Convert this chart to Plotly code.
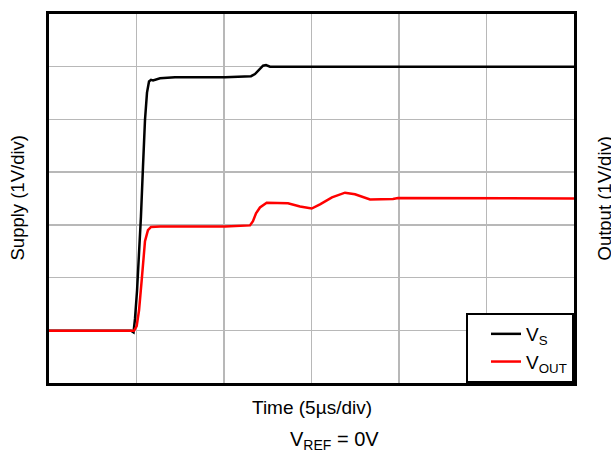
import plotly.graph_objects as go

# time in divisions (5 us/div), voltage in divisions (1 V/div)
vs_t = [0, 0.937, 0.966, 0.983, 1.006, 1.029, 1.051, 1.074, 1.097, 1.12, 1.143, 1.166, 1.189,
        1.269, 1.44, 2.011, 2.309, 2.354, 2.4, 2.446, 2.48, 2.526, 6.0]
vs_v = [0.99, 0.99, 0.96, 1.22, 1.75, 2.41, 3.16, 4.10, 4.99, 5.51, 5.72, 5.75, 5.74,
        5.78, 5.80, 5.80, 5.82, 5.86, 5.95, 6.02, 6.03, 6.0, 6.0]

vout_t = [0, 0.949, 0.971, 1.002, 1.029, 1.059, 1.097, 1.131, 1.166, 1.269, 2.011, 2.297, 2.331,
          2.366, 2.411, 2.488, 2.731, 2.869, 3.002, 3.097, 3.234, 3.383, 3.497, 3.669, 3.931,
          3.989, 4.469, 6.0]
vout_v = [0.99, 0.99, 0.99, 1.08, 1.38, 1.94, 2.69, 2.90, 2.96, 2.97, 2.97, 2.99, 3.07,
          3.22, 3.33, 3.42, 3.41, 3.35, 3.31, 3.39, 3.52, 3.61, 3.58, 3.48, 3.49,
          3.51, 3.51, 3.50]

FONT = "Liberation Sans, Arial, sans-serif"

fig = go.Figure()
fig.add_trace(go.Scatter(x=vs_t, y=vs_v, mode="lines", name="V<sub>S</sub>",
                         line=dict(color="black", width=2.5)))
fig.add_trace(go.Scatter(x=vout_t, y=vout_v, mode="lines", name="V<sub>OUT</sub>",
                         line=dict(color="#ff0000", width=2.5)))

axis_common = dict(showgrid=True, gridcolor="#b8b8b8", gridwidth=1.5, zeroline=False,
                   showticklabels=False, ticks="", showline=True, linecolor="black",
                   linewidth=3, mirror=True, dtick=1, fixedrange=True)

fig.update_layout(
    width=611, height=455,
    margin=dict(l=49, r=37, t=11, b=72),
    paper_bgcolor="white", plot_bgcolor="white",
    font=dict(family=FONT, size=18, color="black"),
    xaxis=dict(range=[0, 6], **axis_common),
    yaxis=dict(range=[0, 7], **axis_common),
    showlegend=True,
    legend=dict(x=1, y=0, xanchor="right", yanchor="bottom", bgcolor="white",
                bordercolor="black", borderwidth=2, font=dict(family=FONT, size=19),
                tracegroupgap=0, indentation=18),
    annotations=[
        dict(text="Supply (1V/div)", xref="paper", yref="paper", x=(17 - 49) / 525, y=0.5,
             xanchor="center", yanchor="middle", textangle=-90, showarrow=False,
             font=dict(family=FONT, size=18.5)),
        dict(text="Output (1V/div)", xref="paper", yref="paper", x=(604 - 49) / 525, y=0.5,
             xanchor="center", yanchor="middle", textangle=-90, showarrow=False,
             font=dict(family=FONT, size=18.5)),
        dict(text="Time (5\u00b5s/div)", xref="paper", yref="paper", x=(311.5 - 49) / 525,
             y=(383 - 408) / 372, xanchor="center", yanchor="middle", showarrow=False,
             font=dict(family=FONT, size=19)),
        dict(text="V<sub>REF</sub> = 0V", xref="paper", yref="paper", x=(334 - 49) / 525,
             y=(383 - 441) / 372, xanchor="center", yanchor="middle", showarrow=False,
             font=dict(family=FONT, size=20)),
    ],
)

fig.write_html("out.html", config={"displayModeBar": False, "staticPlot": True},
               post_script="document.body.style.margin='0';")
